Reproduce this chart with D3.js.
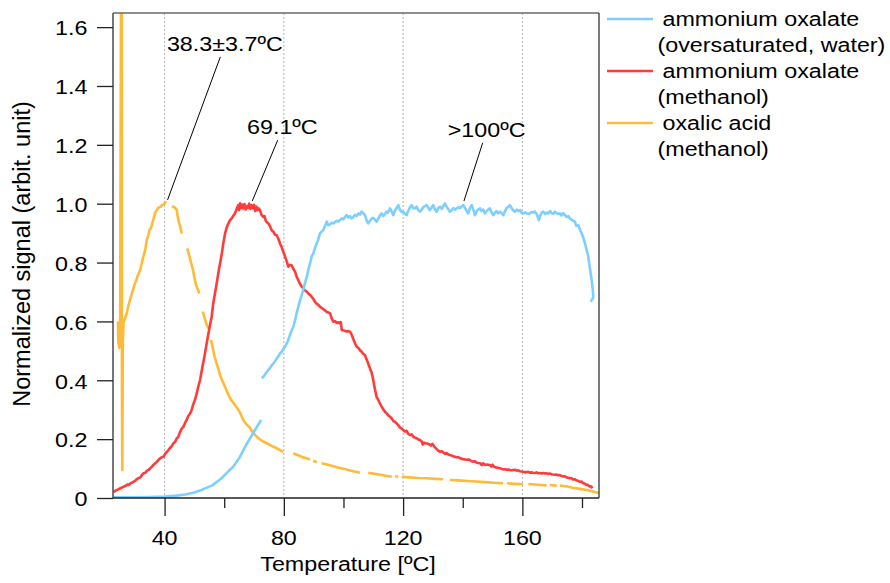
<!DOCTYPE html>
<html>
<head>
<meta charset="utf-8">
<script src="https://cdn.jsdelivr.net/npm/d3@7"></script>
<style>
  html, body { margin: 0; padding: 0; background: #fff; }
  svg { display: block; font-family: "Liberation Sans", Arial, Helvetica, sans-serif; }
</style>
</head>
<body>
<svg id="chart" width="890" height="583"></svg>
<script>
// ---- Data: [temperature °C, normalized signal]; null marks a gap in the record ----
const ammoniumOxalateWater = [
  [22.8,0.002],[30,0.002],[35,0.003],[40,0.005],[44,0.008],[47,0.012],[50,0.019],[53,0.030],
  [56,0.043],[59,0.066],[61,0.087],[63,0.106],[65,0.135],[67.5,0.183],[70.3,0.231],[72.4,0.265],
  null,
  [72.6,0.407],[73.2,0.413],[73.7,0.420],[74.3,0.429],[74.9,0.436],[75.4,0.442],[75.9,0.450],[76.5,0.457],
  [77.1,0.466],[77.6,0.474],[78.2,0.482],[78.7,0.491],[79.3,0.497],[79.8,0.506],[80.4,0.514],[81.0,0.525],
  [81.5,0.537],[82.1,0.556],[82.6,0.569],[83.2,0.582],[83.8,0.605],[84.3,0.628],[84.85,0.650],[85.4,0.670],
  [86.0,0.690],[86.5,0.707],[87.1,0.730],[87.7,0.752],[88.2,0.775],[88.8,0.797],[89.3,0.820],[89.9,0.831],
  [90.4,0.848],[91.0,0.865],[91.5,0.877],[92.1,0.899],[92.7,0.905],[93.2,0.910],[93.8,0.925],[94.4,0.939],
  [94.9,0.927],[95.5,0.930],[96.0,0.935],[96.6,0.933],[97.2,0.938],[97.7,0.942],[98.3,0.939],[98.8,0.944],
  [99.4,0.950],[100.0,0.947],[100.5,0.955],[101.1,0.961],[101.6,0.953],[102.2,0.958],[102.7,0.950],[103.3,0.955],
  [103.9,0.962],[104.4,0.958],[105.0,0.967],[105.5,0.963],[106.1,0.973],[106.6,0.968],[107.2,0.961],[107.7,0.945],
  [108.3,0.933],[108.8,0.940],[109.5,0.950],[110.0,0.952],[110.6,0.945],[111.1,0.939],[111.7,0.950],[112.2,0.960],
  [112.8,0.967],[113.4,0.958],[113.9,0.965],[114.5,0.973],[115.0,0.970],[115.6,0.984],[116.1,0.975],[116.7,0.961],
  [117.3,0.978],[117.8,0.985],[118.4,0.995],[118.9,0.980],[119.5,0.972],[120.05,0.973],[120.6,0.965],[121.2,0.961],
  [121.7,0.975],[122.3,0.988],[122.9,0.995],[123.4,0.985],[124.0,0.984],[124.5,0.990],[125.1,0.978],[125.65,0.973],
  [126.2,0.980],[126.8,0.988],[127.3,0.992],[127.9,0.995],[128.5,0.985],[129.0,0.978],[129.6,0.988],[130.1,0.995],
  [130.7,0.980],[131.25,0.973],[131.8,0.985],[132.4,0.990],[133.0,0.982],[133.5,0.992],[134.0,1.001],[134.6,0.990],
  [135.2,0.980],[135.7,0.973],[136.3,0.978],[136.9,0.985],[137.4,0.980],[138.0,0.984],[138.5,0.988],[139.1,0.985],
  [139.6,0.990],[140.2,0.995],[140.8,0.985],[141.3,0.975],[141.85,0.967],[142.4,0.985],[143.0,0.995],[143.6,0.978],
  [144.1,0.961],[144.7,0.975],[145.2,0.980],[145.8,0.984],[146.3,0.975],[146.9,0.980],[147.4,0.967],[148.0,0.975],
  [148.5,0.980],[149.1,0.984],[149.6,0.972],[150.2,0.961],[150.8,0.970],[151.3,0.975],[151.9,0.968],[152.5,0.973],
  [153.0,0.968],[153.6,0.961],[154.2,0.975],[154.7,0.985],[155.3,0.990],[155.8,0.995],[156.4,0.985],[156.9,0.978],
  [157.5,0.973],[158.1,0.980],[158.6,0.975],[159.2,0.978],[159.7,0.970],[160.3,0.967],[160.9,0.970],[161.4,0.968],
  [162.0,0.965],[162.5,0.967],[163.1,0.972],[163.6,0.970],[164.2,0.973],[164.8,0.965],[165.5,0.944],[166.0,0.960],
  [166.5,0.970],[167.0,0.973],[167.6,0.965],[168.2,0.970],[168.7,0.967],[169.3,0.975],[169.8,0.968],[170.4,0.966],
  [170.9,0.973],[171.5,0.968],[172.0,0.965],[172.6,0.967],[173.1,0.960],[173.7,0.968],[174.3,0.961],[174.8,0.955],
  [175.4,0.958],[175.9,0.950],[176.5,0.946],[177.0,0.942],[177.6,0.939],[178.1,0.925],[178.7,0.927],[179.3,0.912],
  [179.9,0.899],[180.4,0.885],[181.0,0.865],[181.5,0.845],[182.1,0.820],[182.5,0.790],[182.9,0.763],[183.3,0.735],
  [183.6,0.707],[183.8,0.684],[183.5,0.676],[182.9,0.667]
];

const ammoniumOxalateMethanol = [
  [22.9,0.020],[23.5,0.025],[24.0,0.027],[24.6,0.030],[25.2,0.033],[25.8,0.036],[26.2,0.038],[26.9,0.041],
  [27.5,0.046],[27.9,0.044],[28.6,0.050],[29.5,0.055],[30.1,0.058],[30.6,0.063],[31.2,0.067],[31.9,0.070],
  [32.4,0.078],[32.9,0.084],[33.6,0.086],[34.1,0.093],[34.6,0.095],[35.2,0.101],[35.7,0.106],[36.2,0.112],
  [36.8,0.117],[37.3,0.122],[37.9,0.129],[38.4,0.134],[39.0,0.138],[39.6,0.140],[40.2,0.150],[40.7,0.156],
  [41.3,0.163],[41.8,0.170],[42.4,0.176],[42.95,0.186],[43.5,0.190],[44.0,0.201],[44.6,0.208],[45.1,0.222],
  [45.8,0.237],[46.3,0.241],[46.9,0.256],[47.4,0.265],[47.9,0.278],[48.5,0.286],[49.1,0.299],[49.6,0.318],
  [50.2,0.333],[50.7,0.352],[51.3,0.378],[51.9,0.401],[52.5,0.435],[53.0,0.462],[53.6,0.494],[54.1,0.525],
  [54.6,0.553],[55.2,0.585],[55.8,0.616],[56.3,0.660],[56.9,0.695],[57.5,0.731],[58.0,0.763],[58.6,0.797],
  [59.2,0.831],[59.7,0.866],[60.3,0.899],[60.9,0.921],[61.5,0.935],[61.95,0.944],[62.5,0.950],[63.0,0.958],
  [63.6,0.967],[64.1,0.980],[64.7,0.995],[65.0,0.978],[65.3,1.001],[65.7,0.985],[66.0,0.997],[66.4,0.984],
  [66.8,0.999],[67.2,0.980],[67.6,0.992],[68.0,0.986],[68.4,1.000],[68.8,0.982],[69.2,0.995],[69.6,0.985],
  [70.0,0.996],[70.4,0.975],[70.8,0.990],[71.2,0.978],[71.6,0.984],[72.0,0.978],[72.5,0.962],[73.1,0.955],
  [73.5,0.958],[74.0,0.940],[74.8,0.933],[75.3,0.925],[75.9,0.910],[76.5,0.905],[77.0,0.895],[77.6,0.893],
  [78.2,0.880],[78.7,0.865],[79.3,0.852],[79.8,0.837],[80.4,0.820],[81.0,0.803],[81.5,0.786],[82.0,0.792],
  [82.6,0.791],[83.2,0.778],[83.75,0.769],[84.3,0.752],[84.85,0.740],[85.4,0.728],[86.0,0.718],[86.6,0.712],
  [87.1,0.705],[87.7,0.701],[88.2,0.695],[88.8,0.690],[89.3,0.684],[89.9,0.676],[90.45,0.667],[91.0,0.660],
  [91.5,0.657],[92.1,0.650],[92.7,0.646],[93.3,0.641],[93.9,0.636],[94.4,0.632],[95.0,0.630],[95.5,0.627],
  [96.0,0.612],[96.6,0.599],[97.2,0.601],[97.7,0.595],[98.3,0.597],[98.8,0.593],[99.1,0.598],[99.4,0.571],
  [100.0,0.569],[100.5,0.568],[101.1,0.566],[101.6,0.567],[102.2,0.565],[102.7,0.556],[103.3,0.540],[103.9,0.525],
  [104.4,0.515],[105.0,0.510],[105.5,0.503],[106.1,0.497],[106.6,0.490],[107.2,0.486],[107.7,0.472],[108.3,0.457],
  [108.9,0.440],[109.5,0.424],[110.0,0.400],[110.6,0.367],[111.1,0.344],[111.7,0.333],[112.2,0.322],[112.8,0.310],
  [113.4,0.301],[114.0,0.292],[114.5,0.288],[115.1,0.280],[115.6,0.276],[116.2,0.270],[116.7,0.262],[117.3,0.258],
  [117.8,0.254],[118.4,0.247],[118.9,0.240],[119.5,0.236],[120.05,0.231],[120.6,0.226],[121.2,0.228],[121.7,0.218],
  [122.3,0.214],[122.9,0.216],[123.4,0.208],[124.0,0.205],[124.5,0.203],[125.1,0.199],[125.65,0.197],[126.2,0.193],
  [126.6,0.182],[127.0,0.188],[127.6,0.186],[128.1,0.185],[128.7,0.183],[129.3,0.178],[129.8,0.184],[130.1,0.180],
  [130.7,0.172],[131.2,0.167],[131.8,0.161],[132.4,0.157],[133.0,0.159],[133.5,0.154],[134.1,0.150],[134.6,0.153],
  [135.2,0.148],[135.7,0.146],[136.3,0.144],[136.8,0.142],[137.4,0.140],[138.0,0.138],[138.5,0.139],[139.1,0.135],
  [139.7,0.133],[140.2,0.132],[140.8,0.131],[141.3,0.130],[141.9,0.131],[142.4,0.129],[143.0,0.125],[143.6,0.123],
  [144.1,0.125],[144.7,0.120],[145.2,0.119],[145.8,0.118],[146.4,0.112],[146.8,0.118],[147.3,0.113],[147.9,0.114],
  [148.5,0.113],[149.1,0.112],[149.6,0.107],[150.0,0.113],[150.5,0.106],[151.0,0.104],[151.6,0.103],[152.1,0.102],
  [152.5,0.101],[153.1,0.099],[153.7,0.097],[154.2,0.098],[154.8,0.096],[155.4,0.097],[155.9,0.095],[156.5,0.094],
  [156.9,0.095],[157.5,0.096],[158.1,0.093],[158.6,0.094],[159.2,0.091],[159.7,0.090],[160.3,0.089],[160.9,0.087],
  [161.4,0.088],[162.0,0.089],[162.5,0.086],[163.1,0.087],[163.6,0.086],[164.2,0.085],[164.8,0.087],[165.3,0.084],
  [165.9,0.085],[166.4,0.083],[167.0,0.085],[167.5,0.083],[168.1,0.084],[168.6,0.082],[169.2,0.083],[169.8,0.081],
  [170.3,0.080],[170.9,0.079],[171.4,0.080],[172.0,0.077],[172.6,0.078],[173.1,0.075],[173.7,0.073],[174.2,0.074],
  [174.8,0.070],[175.3,0.069],[175.9,0.067],[176.4,0.068],[177.0,0.063],[177.6,0.064],[178.1,0.060],[178.7,0.058],
  [179.3,0.055],[179.8,0.056],[180.4,0.050],[180.9,0.049],[181.5,0.044],[182.0,0.045],[182.5,0.039],[183.0,0.040],
  [183.5,0.033]
];

const oxalicAcidMethanol = [
  [24.4,0.60],[24.5,0.53],[24.8,0.51],[25.1,0.58],[25.4,1.75],[25.6,1.75],[25.7,0.40],[25.8,0.095],
  [25.9,0.30],[26.0,0.53],[26.2,0.594],[26.8,0.612],[27.4,0.632],[27.9,0.655],[28.4,0.673],[28.9,0.690],
  [29.4,0.707],[30.1,0.730],[30.5,0.740],[30.95,0.754],[31.4,0.765],[31.8,0.774],[32.45,0.802],[32.9,0.820],
  [33.5,0.842],[34.0,0.876],[34.5,0.890],[34.9,0.910],[35.3,0.915],[35.6,0.924],[36.2,0.944],[36.8,0.968],
  [37.4,0.978],[37.8,0.985],[38.2,0.988],[38.7,0.990],[39.1,0.995],[39.7,0.998],[40.2,1.004],[40.5,1.009],
  null,
  [42.4,0.989],[43.0,0.990],[43.6,0.985],[44.1,0.978],[44.6,0.944],[45.2,0.925],[45.8,0.899],
  null,
  [47.6,0.848],[48.1,0.830],[48.5,0.815],[49.0,0.795],[49.55,0.774],[50.0,0.750],[50.55,0.724],[51.1,0.710],[51.7,0.695],
  null,
  [52.8,0.633],[53.2,0.620],[53.6,0.605],[54.1,0.590],[54.7,0.576],
  null,
  [55.6,0.537],[56.3,0.503],[56.8,0.480],[57.3,0.462],[58.0,0.440],[58.6,0.418],[59.4,0.398],[60.3,0.377],
  [61.1,0.358],[61.95,0.340],[62.8,0.327],[63.6,0.316],[64.4,0.305],[65.3,0.290],[66.4,0.265],[67.5,0.250],
  [68.7,0.238],[69.5,0.225],[70.3,0.214],[71.3,0.205],[72.3,0.197],[73.3,0.191],[74.3,0.186],[75.9,0.177],
  [77.6,0.169],[78.7,0.163],[79.8,0.157],
  null,
  [83.2,0.152],[84.3,0.147],[85.4,0.143],[86.4,0.138],[87.6,0.135],[88.8,0.131],
  null,
  [89.8,0.126],[91.1,0.122],
  null,
  [92.7,0.118],[94.5,0.114],[96.6,0.108],[98.8,0.102],[101.0,0.097],[103.3,0.091],[105.5,0.086],
  null,
  [108.3,0.086],[110.5,0.082],[112.8,0.078],[114.5,0.075],[116.2,0.072],
  null,
  [117.3,0.074],[118.4,0.072],
  null,
  [119.5,0.072],[122.0,0.070],[125.0,0.068],[128.0,0.067],[130.7,0.065],[133.4,0.0635],
  null,
  [135.7,0.061],[138.5,0.060],[141.5,0.058],[144.5,0.056],[147.5,0.054],[150.5,0.052],[153.5,0.050],
  null,
  [154.8,0.050],[157.5,0.048],[160.2,0.0465],
  null,
  [162.0,0.0476],[165.0,0.045],[168.1,0.043],
  null,
  [169.2,0.044],[171.5,0.042],
  null,
  [172.6,0.042],[175.0,0.039],[177.0,0.035],[179.3,0.031],[181.5,0.027],[183.7,0.022],[185.6,0.017]
];

// ---- Axes ----
const xMajorTicks = [40, 80, 120, 160];
const xMinorTicks = [60, 100, 140, 180];
const xTickLabels = ["40", "80", "120", "160"];
const yTicks = [0, 0.2, 0.4, 0.6, 0.8, 1.0, 1.2, 1.4, 1.6];
const yTickLabels = ["0", "0.2", "0.4", "0.6", "0.8", "1.0", "1.2", "1.4", "1.6"];

// ---- Series / legend ----
const seriesNames = [
  ["ammonium oxalate", "(oversaturated, water)"],
  ["ammonium oxalate", "(methanol)"],
  ["oxalic acid", "(methanol)"]
];
const seriesColors = ["#7dcfff", "#ff3b3b", "#ffba38"];

// ---- Peak annotations: label, point on curve, label anchor ----
const annotations = [
  { text: "38.3±3.7ºC", at: [41.0, 1.013], label: [60.2, 1.52], from: [58.7, 1.499] },
  { text: "69.1ºC",     at: [69.4, 1.009], label: [79.5, 1.236], from: [77.95, 1.216] },
  { text: ">100ºC",     at: [140.4, 1.009], label: [148.0, 1.226], from: [146.7, 1.207] }
];

const svg = d3.select("#chart");
const plot = { left: 113, top: 13, right: 599, bottom: 498 };
const x = d3.scaleLinear().domain([22.7, 185.7]).range([plot.left, plot.right]);
const y = d3.scaleLinear().domain([0, 1.648]).range([plot.bottom, plot.top]);
const SX = 1.11;      // horizontal stretch of the lettering
const FONT = 21;

function addText(parent, px, py, txt, anchor, size) {
  return parent.append("text")
    .attr("transform", `translate(${px},${py}) scale(${SX},1)`)
    .attr("text-anchor", anchor || "start")
    .style("font-size", (size || FONT) + "px")
    .attr("fill", "#000")
    .text(txt);
}

// dotted vertical grid at the major temperature ticks
svg.append("g").selectAll("line").data(xMajorTicks).join("line")
  .attr("x1", d => x(d)).attr("x2", d => x(d))
  .attr("y1", plot.top).attr("y2", plot.bottom)
  .attr("stroke", "#b4b4b4").attr("stroke-width", 1)
  .attr("stroke-dasharray", "2,2");

// clip for the data
svg.append("clipPath").attr("id", "plotClip").append("rect")
  .attr("x", plot.left).attr("y", plot.top)
  .attr("width", plot.right - plot.left).attr("height", plot.bottom - plot.top);

const line = d3.line()
  .defined(d => d !== null)
  .x(d => x(d[0])).y(d => y(d[1]));

const dataG = svg.append("g").attr("clip-path", "url(#plotClip)");
const drawOrder = [
  [oxalicAcidMethanol, seriesColors[2]],
  [ammoniumOxalateMethanol, seriesColors[1]],
  [ammoniumOxalateWater, seriesColors[0]]
];
drawOrder.forEach(([data, color]) => {
  dataG.append("path").datum(data)
    .attr("d", line)
    .attr("fill", "none")
    .attr("stroke", color)
    .attr("stroke-width", 2.6)
    .attr("stroke-linejoin", "round");
});

// frame: top and right
svg.append("line").attr("x1", plot.left).attr("x2", plot.right).attr("y1", plot.top).attr("y2", plot.top)
  .attr("stroke", "#6a6a6a").attr("stroke-width", 1.3);
svg.append("line").attr("x1", plot.right).attr("x2", plot.right).attr("y1", plot.top).attr("y2", plot.bottom)
  .attr("stroke", "#333").attr("stroke-width", 1.3);

// y axis
const yAxis = svg.append("g").attr("transform", `translate(${plot.left},0)`)
  .call(d3.axisLeft(y).tickValues(yTicks).tickSize(16).tickFormat(""));
yAxis.select(".domain").attr("stroke", "#555").attr("stroke-width", 1.6)
  .attr("d", `M0,${plot.top}V${plot.bottom}`);
yAxis.selectAll(".tick line").attr("stroke", "#222").attr("stroke-width", 1.3);

yTicks.forEach((v, i) => addText(svg, 87.5, y(v) + 8.3, yTickLabels[i], "end"));

// x axis
const xAxis = svg.append("g").attr("transform", `translate(0,${plot.bottom})`)
  .call(d3.axisBottom(x).tickValues(xMajorTicks).tickSize(18).tickFormat(""));
xAxis.select(".domain").attr("stroke", "#222").attr("stroke-width", 1.6)
  .attr("d", `M${plot.left},0H${plot.right}`);
xAxis.selectAll(".tick line").attr("stroke", "#222").attr("stroke-width", 1.3);
const xMinorAxis = svg.append("g").attr("transform", `translate(0,${plot.bottom})`)
  .call(d3.axisBottom(x).tickValues(xMinorTicks).tickSize(10).tickFormat(""));
xMinorAxis.select(".domain").remove();
xMinorAxis.selectAll(".tick line").attr("stroke", "#222").attr("stroke-width", 1.3);

xMajorTicks.forEach((v, i) => addText(svg, x(v), 545, xTickLabels[i], "middle"));

// axis titles
addText(svg, 348, 571, "Temperature [ºC]", "middle");
svg.append("text")
  .attr("transform", `translate(30,254) rotate(-90)`)
  .attr("text-anchor", "middle")
  .style("font-size", "23.5px")
  .attr("fill", "#000")
  .text("Normalized signal (arbit. unit)");

// peak annotations
annotations.forEach(a => {
  svg.append("line")
    .attr("x1", x(a.from[0])).attr("y1", y(a.from[1]))
    .attr("x2", x(a.at[0])).attr("y2", y(a.at[1]))
    .attr("stroke", "#000").attr("stroke-width", 1);
  addText(svg, x(a.label[0]), y(a.label[1]), a.text, "middle");
});

// legend
const legend = svg.append("g");
seriesNames.forEach((lines, i) => {
  const base = 26 + i * 52;
  legend.append("line")
    .attr("x1", 607).attr("x2", 653)
    .attr("y1", base - 7).attr("y2", base - 7)
    .attr("stroke", seriesColors[i]).attr("stroke-width", 2.6);
  addText(legend, 662.5, base, lines[0], "start");
  addText(legend, 657.5, base + 26, lines[1], "start");
});
</script>
</body>
</html>
